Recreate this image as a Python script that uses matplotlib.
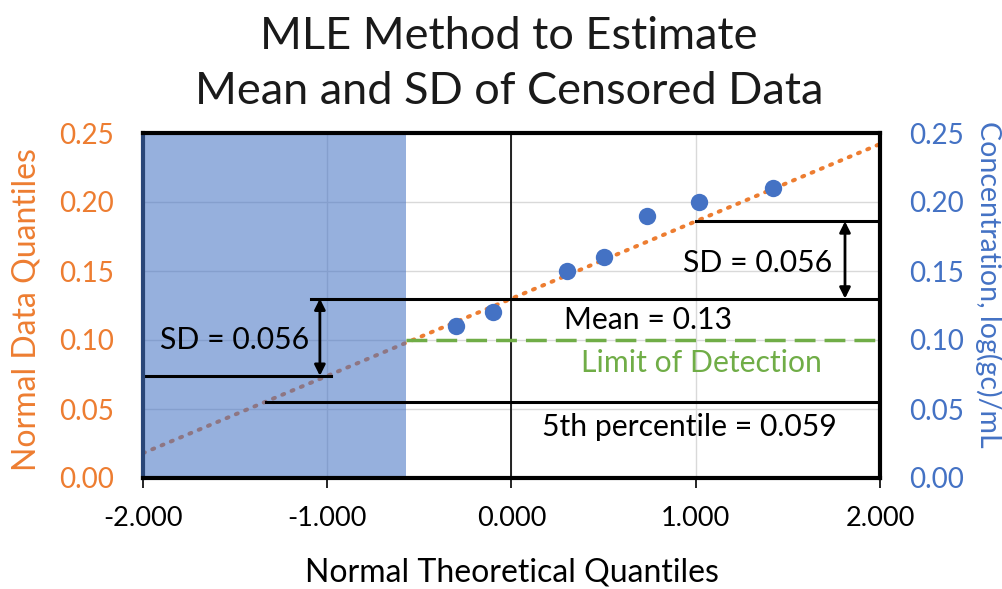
import matplotlib
matplotlib.use("Agg")
import matplotlib.pyplot as plt
from matplotlib.ticker import FormatStrFormatter

plt.rcParams['font.family'] = ['Lato', 'DejaVu Sans']

# ---- data ----
theoretical_q = [-0.30, -0.10, 0.30, 0.50, 0.735, 1.02, 1.42]
concentration = [0.11, 0.12, 0.15, 0.16, 0.19, 0.20, 0.21]
mean_val = 0.13
sd_val = 0.056
lod = 0.10
lod_q = -0.57          # theoretical quantile where censoring begins
p5_val = 0.055         # drawn level of the 5th percentile line
p5_q = -1.33
x_ticks = [-2.0, -1.0, 0.0, 1.0, 2.0]
y_ticks = [0.00, 0.05, 0.10, 0.15, 0.20, 0.25]

ORANGE = '#ED7D31'
BLUE = '#4472C4'
GREEN = '#70AD47'
SHADE = '#4472C4'

fig = plt.figure(figsize=(10.03, 5.89), dpi=100)
ax = fig.add_axes([143/1003, 1-478/589, 737/1003, 345/589])

ax.set_xlim(-2, 2)
ax.set_ylim(0, 0.25)

# grid
ax.set_xticks(x_ticks)
ax.set_yticks(y_ticks)
ax.grid(True, color='#d9d9d9', lw=1.0, zorder=0)
ax.set_axisbelow(True)

# trend line (fitted normal: mean + sd*z)
xs = [-2.0, 2.0]
ys = [mean_val + sd_val * x for x in xs]
ax.plot(xs, ys, color=ORANGE, lw=2.9, linestyle=(0, (0.5, 2.0)),
        dash_capstyle='round', zorder=1.2)

# censored region shade
ax.axvspan(-2, lod_q, color=SHADE, alpha=0.56, lw=0, zorder=1.5)

# vertical axis line at x=0
ax.axvline(0, color='black', lw=1.2, zorder=1.6)

# limit of detection
ax.plot([lod_q, 2], [lod, lod], color=GREEN, lw=2.5,
        linestyle=(0, (6.0, 2.6)), zorder=2.5)

# data points
ax.plot(theoretical_q, concentration, 'o', color=BLUE, ms=12.5, zorder=4, mec='none')

# reference lines
lw_ref = 2.2
ax.plot([-1.09, 2], [mean_val, mean_val], color='black', lw=lw_ref, zorder=3)
ax.plot([-2, -0.98], [mean_val - sd_val, mean_val - sd_val], color='black', lw=lw_ref, zorder=3)
ax.plot([1.0, 2], [mean_val + sd_val, mean_val + sd_val], color='black', lw=lw_ref, zorder=3)
ax.plot([p5_q, 2], [p5_val, p5_val], color='black', lw=lw_ref, zorder=3)

arrow_kw = dict(arrowstyle='<|-|>', color='black', lw=2.0, mutation_scale=16,
                shrinkA=0, shrinkB=0)
ax.annotate('', xy=(-1.04, mean_val - sd_val), xytext=(-1.04, mean_val),
            arrowprops=arrow_kw, zorder=3)
ax.annotate('', xy=(1.81, mean_val), xytext=(1.81, mean_val + sd_val),
            arrowprops=arrow_kw, zorder=3)

# annotations
tfs = 21.7
ax.text(-1.50, 0.100, 'SD = 0.056', ha='center', va='center', fontsize=tfs, color='black', zorder=5)
ax.text(1.338, 0.156, 'SD = 0.056', ha='center', va='center', fontsize=tfs, color='black', zorder=5)
ax.text(0.74, 0.1145, 'Mean = 0.13', ha='center', va='center', fontsize=tfs, color='black', zorder=5)
ax.text(1.03, 0.083, 'Limit of Detection', ha='center', va='center', fontsize=tfs, color=GREEN, zorder=5)
ax.text(0.963, 0.037, '5th percentile = 0.059', ha='center', va='center', fontsize=tfs, color='black', zorder=5)

# spines
for s in ['top', 'bottom', 'right']:
    ax.spines[s].set_linewidth(3.0)
    ax.spines[s].set_color('black')
ax.spines['left'].set_linewidth(3.0)
ax.spines['left'].set_color('#2a4677')
for s in ax.spines.values():
    s.set_zorder(6)

ax.xaxis.set_major_formatter(FormatStrFormatter('%.3f'))
ax.yaxis.set_major_formatter(FormatStrFormatter('%.2f'))
ax.tick_params(axis='x', direction='out', length=7, width=1.2, pad=13, labelsize=19.5, colors='black')
ax.tick_params(axis='y', length=0, pad=21, labelsize=20, labelcolor=ORANGE)

ax.set_xlabel('Normal Theoretical Quantiles', fontsize=23, color='black')
ax.xaxis.set_label_coords(0.5, (478-573)/345)
ax.xaxis.label.set_va('center')
ax.set_ylabel('Normal Data Quantiles', fontsize=23, color=ORANGE)
ax.yaxis.set_label_coords((27-143)/737, (478-310)/345)
ax.yaxis.label.set_va('center')

ax2 = ax.twinx()
ax2.set_ylim(0, 0.25)
ax2.set_yticks(y_ticks)
ax2.yaxis.set_major_formatter(FormatStrFormatter('%.2f'))
ax2.tick_params(axis='y', length=0, pad=21, labelsize=20, labelcolor=BLUE)
for s in ax2.spines.values():
    s.set_visible(False)
ax2.set_ylabel('Concentration, log(gc)/mL', fontsize=20.5, color=BLUE, rotation=270)
ax2.yaxis.set_label_coords((989-143)/737, (478-284)/345)
ax2.yaxis.label.set_va('center')

fig.text(509/1003, 1-64/589, 'MLE Method to Estimate\nMean and SD of Censored Data',
         ha='center', va='center', fontsize=32.5, color='#1a1a1a', linespacing=1.45)

fig.savefig('out.png', dpi=100)
